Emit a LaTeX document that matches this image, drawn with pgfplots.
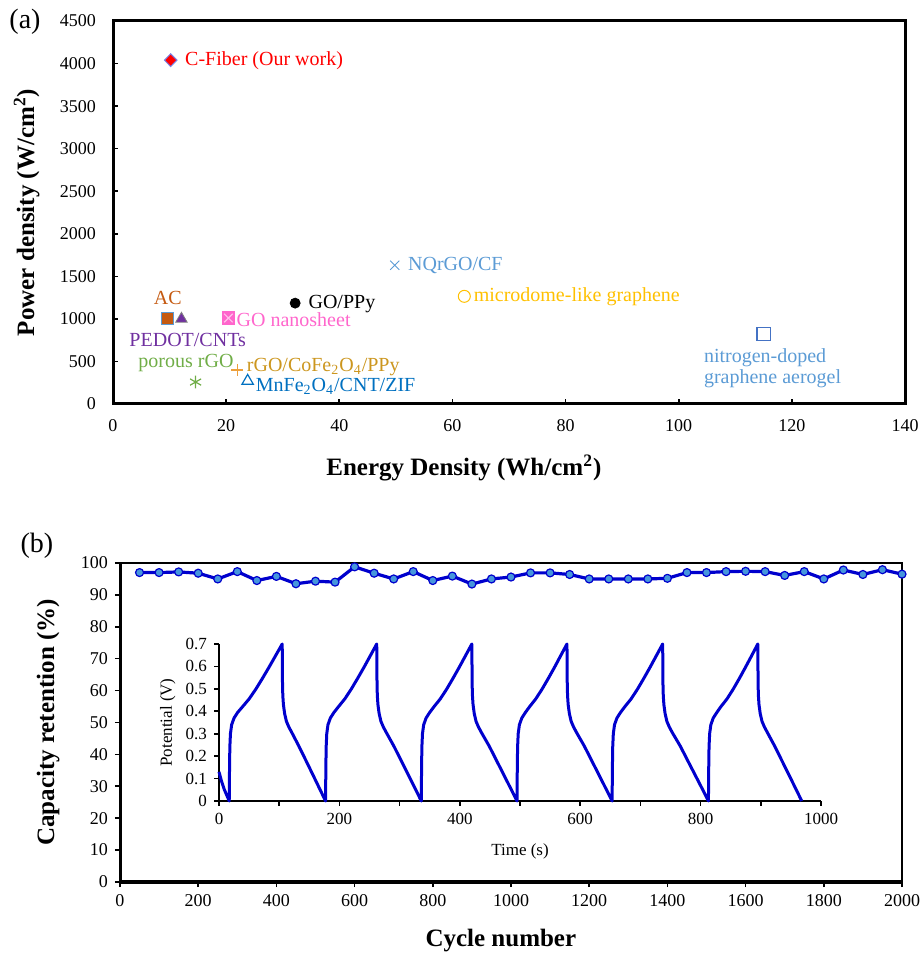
\documentclass[border=0pt]{standalone}
\usepackage{fontspec}
\setmainfont{Liberation Serif}
\usepackage{pgfplots}
\pgfplotsset{compat=1.18}

\definecolor{cfred}{RGB}{255,0,0}
\definecolor{cfedge}{RGB}{120,130,230}
\definecolor{acbrown}{RGB}{197,90,17}
\definecolor{pedot}{RGB}{112,48,160}
\definecolor{gopink}{RGB}{255,102,204}
\definecolor{nqblue}{RGB}{91,155,213}
\definecolor{gold}{RGB}{255,192,0}
\definecolor{aeroblue}{RGB}{68,114,196}
\definecolor{rgogreen}{RGB}{112,173,71}
\definecolor{cofe}{RGB}{204,150,30}
\definecolor{plusor}{RGB}{237,160,60}
\definecolor{mnblue}{RGB}{0,112,192}
\definecolor{lineblue}{RGB}{0,0,205}
\definecolor{dotblue}{RGB}{70,150,220}

\tikzset{lbl/.style={font=\fontsize{10}{10.5}\selectfont, inner sep=0pt}}

\pgfplotsset{
  base/.style={
    scale only axis,
    /pgf/number format/assume math mode=true,
    /pgf/number format/1000 sep={},
    scaled ticks=false,
    tick label style={font=\fontsize{9}{10}\selectfont, black},
    label style={font=\fontsize{12.5}{14}\selectfont\bfseries},
    xtick pos=left, ytick pos=left,
    tick style={black, line width=0.8pt},
    major tick length=2.5pt,
  },
}

\begin{document}
\begin{tikzpicture}
\useasboundingbox (0,0) rectangle (460pt,479pt);

% ---------- (a) ----------
\begin{axis}[base,
  at={(56.5pt,277pt)}, anchor=south west,
  width=396pt, height=191.5pt,
  xmin=0, xmax=140, ymin=0, ymax=4500,
  xtick={0,20,...,140}, ytick={0,500,...,4500},
  tick align=inside,
  axis line style={line width=1.5pt},
  xticklabel style={yshift=-4pt},
  yticklabel style={xshift=-5pt},
  xlabel={Energy Density (Wh/cm\textsuperscript{2})},
  ylabel={Power density (W/cm\textsuperscript{2})},
  xlabel style={at={(axis description cs:0.443,-0.167)}, anchor=center},
  ylabel style={at={(axis description cs:-0.109,0.5)}, anchor=center},
  clip=false,
]
\addplot[only marks, mark=diamond*, mark size=3.2pt, mark options={xscale=1.3, fill=cfred, draw=cfedge, line width=0.5pt}]
  coordinates {(10.2,4040)};
\addplot[only marks, mark=square*, mark size=3pt, mark options={fill=acbrown, draw=nqblue, line width=0.6pt}]
  coordinates {(9.7,1000)};
\addplot[only marks, mark=triangle*, mark size=3.3pt, mark options={fill=pedot, draw=gray, line width=0.4pt}]
  coordinates {(12.1,1000)};
\addplot[only marks, mark=square*, mark size=3.1pt, mark options={fill=gopink, draw=gopink}]
  coordinates {(20.4,1010)};
\addplot[only marks, mark=x, mark size=3pt, mark options={draw=white!60!gopink, line width=0.6pt}]
  coordinates {(20.4,1010)};
\addplot[only marks, mark=*, mark size=2.5pt, mark options={fill=black, draw=black}]
  coordinates {(32.2,1185)};
\addplot[only marks, mark=x, mark size=3.2pt, mark options={draw=nqblue, line width=0.5pt}]
  coordinates {(49.8,1630)};
\addplot[only marks, mark=o, mark size=3pt, mark options={draw=gold, line width=0.5pt}]
  coordinates {(62.1,1265)};
\addplot[only marks, mark=square, mark size=3.3pt, mark options={draw=aeroblue, line width=0.6pt}]
  coordinates {(115,820)};
\addplot[only marks, mark=asterisk, mark size=3.2pt, mark options={draw=rgogreen, line width=0.6pt}]
  coordinates {(14.6,258)};
\addplot[only marks, mark=+, mark size=3pt, mark options={draw=plusor, line width=0.6pt}]
  coordinates {(22.0,400)};
\addplot[only marks, mark=triangle, mark size=3.3pt, mark options={draw=mnblue, line width=0.6pt}]
  coordinates {(23.8,270)};

\node[lbl, anchor=west, text=cfred] at (axis cs:12.7,4030) {C-Fiber (Our work)};
\node[lbl, text=acbrown] at (axis cs:9.7,1245) {AC};
\node[lbl, text=pedot] at (axis cs:13.2,750) {PEDOT/CNTs};
\node[lbl, anchor=west, text=gopink] at (axis cs:21.8,985) {GO nanosheet};
\node[lbl, anchor=west, text=black] at (axis cs:34.5,1175) {GO/PPy};
\node[lbl, anchor=west, text=nqblue] at (axis cs:52.1,1630) {NQrGO/CF};
\node[lbl, anchor=west, text=gold] at (axis cs:63.7,1265) {microdome-like graphene};
\node[lbl, anchor=west, text=nqblue, align=left] at (axis cs:104.4,422) {nitrogen-doped\\graphene aerogel};
\node[lbl, text=rgogreen] at (axis cs:12.9,480) {porous rGO};
\node[lbl, anchor=west, text=cofe] at (axis cs:23.6,440) {rGO/CoFe\textsubscript{2}O\textsubscript{4}/PPy};
\node[lbl, anchor=west, text=mnblue] at (axis cs:25.2,205) {MnFe\textsubscript{2}O\textsubscript{4}/CNT/ZIF};
\end{axis}
\node[font=\fontsize{14}{16}\selectfont] at (12.5pt,468pt) {(a)};

% ---------- (b) ----------
\begin{axis}[base,
  at={(60pt,38pt)}, anchor=south west,
  width=391pt, height=159.5pt,
  xmin=0, xmax=2000, ymin=0, ymax=100,
  xtick={0,200,...,2000}, ytick={0,10,...,100},
  tick align=outside,
  axis line style={line width=1pt},
  xlabel={Cycle number},
  ylabel={Capacity retention (\%)},
  xlabel style={at={(axis description cs:0.487,-0.182)}, anchor=center},
  ylabel style={at={(axis description cs:-0.092,0.5)}, anchor=center},
  clip=false,
]
\draw[line width=1.5pt] (axis cs:0,100) -- (axis cs:0,0) -- (axis cs:2000,0);
\addplot[lineblue, line width=1.6pt, line join=round, mark=*, mark size=2pt,
  mark options={fill=dotblue, draw=lineblue, line width=0.6pt}]
  coordinates {
  (50,97.0) (100,97.0) (150,97.2) (200,96.8) (250,95.0) (300,97.3) (350,94.5) (400,95.8)
  (450,93.5) (500,94.3) (550,94.0) (600,98.8) (650,96.8) (700,95.0) (750,97.3) (800,94.5)
  (850,95.9) (900,93.4) (950,95.0) (1000,95.6) (1050,96.9) (1100,96.9) (1150,96.4) (1200,95.0)
  (1250,95.0) (1300,95.0) (1350,95.0) (1400,95.2) (1450,97.0) (1500,97.0) (1550,97.3) (1600,97.4)
  (1650,97.3) (1700,96.1) (1750,97.3) (1800,95.0) (1850,97.8) (1900,96.4) (1950,97.9) (2000,96.5)
  };
\end{axis}
\node[font=\fontsize{14}{16}\selectfont] at (18.5pt,206pt) {(b)};

% ---------- inset ----------
\begin{axis}[base,
  at={(109.5pt,78.5pt)}, anchor=south west,
  width=301pt, height=78.5pt,
  xmin=0, xmax=1000, ymin=0, ymax=0.7,
  xtick={0,200,...,1000}, minor xtick={100,300,...,900},
  ytick={0,0.1,...,0.7},
  yticklabel style={/pgf/number format/fixed, /pgf/number format/precision=1},
  tick align=outside,
  minor tick length=2.5pt,
  axis line style={line width=0.7pt},
  axis x line*=bottom, axis y line*=left,
  tick label style={font=\fontsize{8.5}{9.5}\selectfont},
  label style={font=\fontsize{8.5}{9.5}\selectfont\mdseries},
  xlabel={Time (s)}, ylabel={Potential (V)},
  xlabel style={at={(axis description cs:0.5,-0.32)}, anchor=center},
  ylabel style={at={(axis description cs:-0.085,0.5)}, anchor=center},
  clip=false,
]
\addplot[lineblue, line width=1.5pt, line join=round] coordinates {
(0,0.13) (4,0.09) (9,0.05) (13,0.025) (17,0)
(17.5,0.15) (18,0.24) (19,0.30) (21,0.34) (25,0.37) (31,0.395) (39,0.42) (50,0.455) (61,0.498) (72,0.546) (83,0.596) (94,0.648) (105,0.70)
(105.5,0.52) (106,0.47) (107,0.43) (109,0.39) (112,0.355) (116,0.33) (121,0.305) (132.6,0.245) (144.5,0.18) (156.3,0.115) (167.1,0.055) (177,0)
(177.5,0.15) (178,0.24) (179,0.30) (181,0.34) (185,0.37) (191,0.395) (198.3,0.42) (208.9,0.455) (219.5,0.498) (230.1,0.546) (240.8,0.596) (251.4,0.648) (262,0.70)
(262.5,0.52) (263,0.47) (264,0.43) (266,0.39) (269,0.355) (273,0.33) (278,0.305) (290.4,0.245) (302.6,0.18) (314.7,0.115) (325.9,0.055) (336,0)
(336.5,0.15) (337,0.24) (338,0.30) (340,0.34) (344,0.37) (350,0.395) (357,0.42) (367.5,0.455) (378,0.498) (388.5,0.546) (399,0.596) (409.5,0.648) (420,0.70)
(420.5,0.52) (421,0.47) (422,0.43) (424,0.39) (427,0.355) (431,0.33) (436,0.305) (448.8,0.245) (461.1,0.18) (473.4,0.115) (484.7,0.055) (495,0)
(495.5,0.15) (496,0.24) (497,0.30) (499,0.34) (503,0.37) (509,0.395) (515.8,0.42) (526.1,0.455) (536.5,0.498) (546.9,0.546) (557.3,0.596) (567.6,0.648) (578,0.70)
(578.5,0.52) (579,0.47) (580,0.43) (582,0.39) (585,0.355) (589,0.33) (594,0.305) (606.8,0.245) (619.1,0.18) (631.4,0.115) (642.7,0.055) (653,0)
(653.5,0.15) (654,0.24) (655,0.30) (657,0.34) (661,0.37) (667,0.395) (674,0.42) (684.5,0.455) (695,0.498) (705.5,0.546) (716,0.596) (726.5,0.648) (737,0.70)
(737.5,0.52) (738,0.47) (739,0.43) (741,0.39) (744,0.355) (748,0.33) (753,0.305) (766.2,0.245) (778.6,0.18) (791.1,0.115) (802.6,0.055) (813,0)
(813.5,0.15) (814,0.24) (815,0.30) (817,0.34) (821,0.37) (827,0.395) (833.5,0.42) (843.8,0.455) (854,0.498) (864.3,0.546) (874.5,0.596) (884.8,0.648) (895,0.70)
(895.5,0.52) (896,0.47) (897,0.43) (899,0.39) (902,0.355) (906,0.33) (911,0.305) (923,0.245) (935,0.18) (947,0.115) (958,0.055) (968,0)
};
\end{axis}
\end{tikzpicture}
\end{document}
